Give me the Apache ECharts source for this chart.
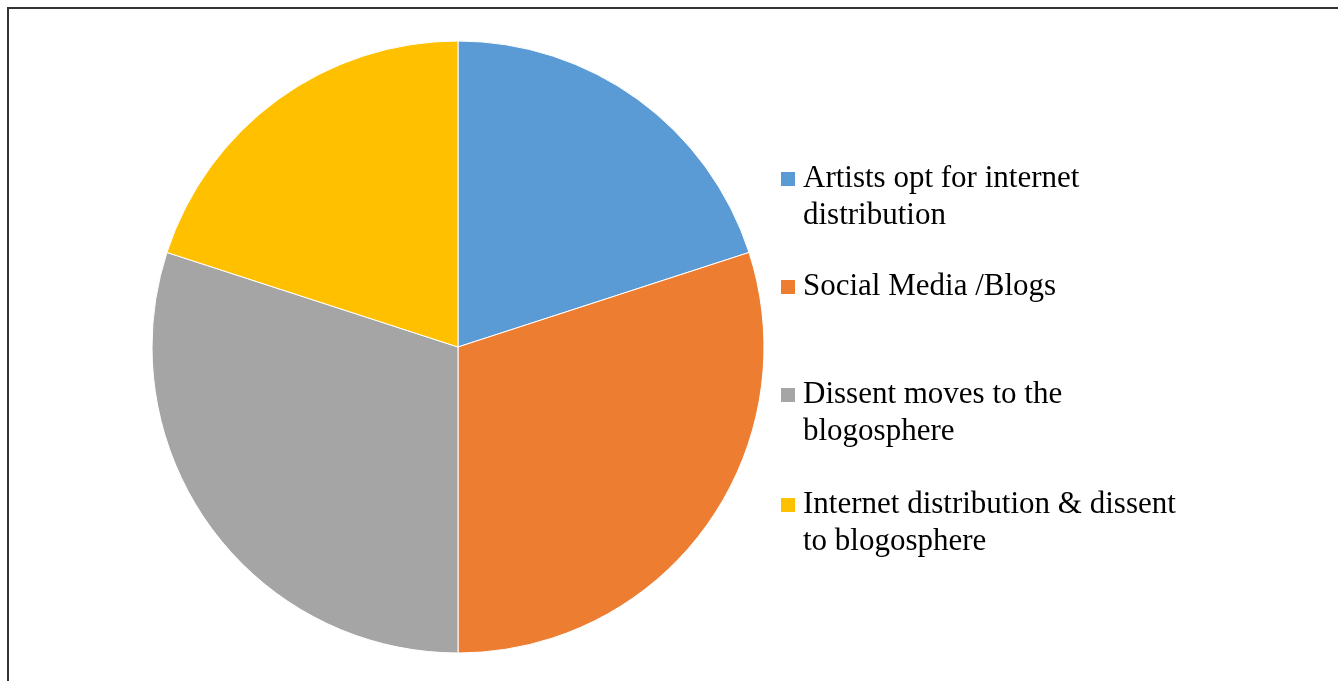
<!DOCTYPE html>
<html><head><meta charset="utf-8">
<script src="https://cdn.jsdelivr.net/npm/echarts@6/dist/echarts.min.js"></script>
<style>html,body{margin:0;padding:0;background:#fff}#c{width:1338px;height:681px}</style>
</head><body><div id="c"></div>
<script>
const categories = ["Artists opt for internet\ndistribution", "Social Media /Blogs", "Dissent moves to the\nblogosphere", "Internet distribution & dissent\nto blogosphere"];
const values = [20, 30, 30, 20];
const colors = ["#5B9BD5", "#ED7D31", "#A5A5A5", "#FFC000"];
const markerCenters = [179, 287, 395, 505];

const FONT = 'Liberation Serif, Times New Roman, serif';
const FS = 31;
const LH = 37;
const chart = echarts.init(document.getElementById('c'));
const legends = categories.map((name, i) => ({
  data: [name],
  left: 779,
  top: markerCenters[i] - LH / 2,
  icon: 'rect',
  itemWidth: 16,
  itemHeight: 16,
  itemGap: 0,
  padding: 0,
  selectedMode: false,
  formatter: n => n.split('\n')[0],
  textStyle: {fontFamily: FONT, fontSize: FS, color: '#000', lineHeight: LH, padding: [0, 0, 0, 2]}
}));
const extraLines = [];
categories.forEach((name, i) => {
  name.split('\n').slice(1).forEach((line, k) => {
    extraLines.push({
      type: 'text', left: 803, top: markerCenters[i] + LH * (k + 1) - LH / 2,
      style: {text: line, font: FS + 'px ' + FONT, fill: '#000', lineHeight: LH, height: LH, verticalAlign: 'middle'}
    });
  });
});
chart.setOption({
  animation: false,
  legend: legends,
  graphic: [
    {type: 'line', shape: {x1: 7, y1: 8, x2: 1338, y2: 8}, style: {stroke: '#333', lineWidth: 2}},
    {type: 'line', shape: {x1: 8, y1: 7, x2: 8, y2: 681}, style: {stroke: '#333', lineWidth: 2}}
  ].concat(extraLines),
  series: [{
    type: 'pie',
    center: [458, 347],
    radius: 306,
    startAngle: 90,
    clockwise: true,
    label: {show: false},
    labelLine: {show: false},
    emphasis: {disabled: true},
    itemStyle: {borderColor: '#fff', borderWidth: 1},
    data: categories.map((n, i) => ({name: n, value: values[i], itemStyle: {color: colors[i]}}))
  }]
});
</script></body></html>
